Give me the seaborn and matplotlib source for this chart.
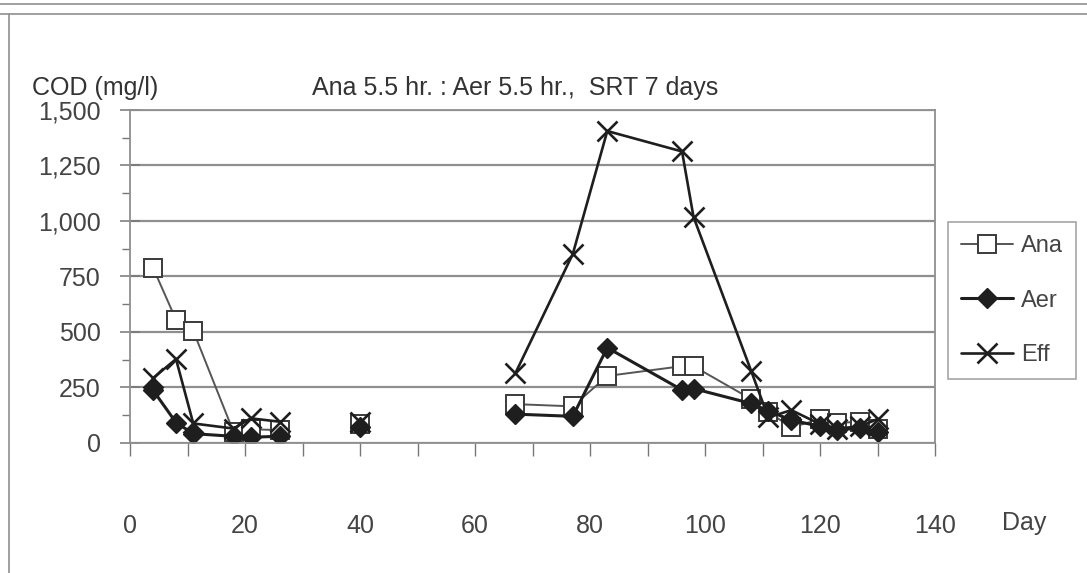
import matplotlib
matplotlib.use("Agg")
import matplotlib.pyplot as plt
import pandas as pd
import seaborn as sns
from matplotlib.lines import Line2D
from matplotlib.ticker import MultipleLocator, FuncFormatter

# Sampling days and the run each day belongs to (runs are not joined by lines)
days = [4, 8, 11, 18, 21, 26, 40, 67, 77, 83, 96, 98, 108, 111, 115, 120, 123, 127, 130]
runs = [1, 1, 1, 1, 1, 1, 2, 3, 3, 3, 3, 3, 3, 3, 3, 3, 3, 3, 3]

# COD (mg/l) for the anaerobic tank, aerobic tank and effluent
ana = [790, 555, 505, 50, 62, 58, 85, 175, 165, 302, 346, 346, 198, 140, 70, 107, 90, 96, 62]
aer = [238, 92, 42, 30, 26, 30, 70, 130, 120, 429, 239, 245, 178, 145, 103, 75, 60, 66, 50]
eff = [292, 378, 88, 65, 111, 96, 95, 313, 851, 1405, 1313, 1018, 326, 115, 148, 85, 65, 75, 108]

series_names = ["Ana", "Aer", "Eff"]
x_ticks = [0, 20, 40, 60, 80, 100, 120, 140]
y_ticks = [0, 250, 500, 750, 1000, 1250, 1500]

df = pd.DataFrame({"day": days, "run": runs, "Ana": ana, "Aer": aer, "Eff": eff})

sns.set_theme(style="white")
plt.rcParams["font.family"] = ["Liberation Sans", "DejaVu Sans"]

FS = 18
LEG_FS = 17

styles = {
    "Ana": dict(color="#555555", lw=1.4, marker="s", ms=13, mfc="white",
                mec="#3a3a3a", mew=1.4),
    "Aer": dict(color="#1e1e1e", lw=2.2, marker="D", ms=10, mfc="#1e1e1e",
                mec="#1e1e1e", mew=1.0),
    "Eff": dict(color="#1e1e1e", lw=1.9, marker="x", ms=14, mfc="none",
                mec="#1e1e1e", mew=1.9),
}

fig = plt.figure(figsize=(10.87, 5.73), dpi=100)
ax = fig.add_axes([0.1196, 0.2269, 0.7406, 0.5812])

for name in series_names:
    sns.lineplot(data=df, x="day", y=name, units="run", estimator=None,
                 sort=False, ax=ax, **styles[name])

ax.set_xlim(x_ticks[0], x_ticks[-1])
ax.set_ylim(y_ticks[0], y_ticks[-1])
ax.set_xticks(x_ticks)
ax.set_yticks(y_ticks)
ax.xaxis.set_minor_locator(MultipleLocator(10))
ax.yaxis.set_minor_locator(MultipleLocator(125))
ax.yaxis.set_major_formatter(FuncFormatter(lambda v, p: f"{v:,.0f}"))
ax.set_xlabel("")
ax.set_ylabel("")

ax.yaxis.grid(True, which="major", color="#8f8f8f", lw=1.6)
ax.xaxis.grid(False)
ax.set_axisbelow(True)
for side in ["left", "right", "top", "bottom"]:
    ax.spines[side].set_visible(True)
    ax.spines[side].set_color("#8f8f8f")
    ax.spines[side].set_linewidth(1.3)

ax.tick_params(axis="y", which="major", direction="inout", length=14, width=1.1,
               color="#777777", pad=14, labelsize=FS, labelcolor="#444444", left=True)
ax.tick_params(axis="y", which="minor", direction="out", length=6, width=1.0,
               color="#777777", left=True)
ax.tick_params(axis="x", which="both", direction="out", length=9, width=1.0,
               color="#777777", pad=42, labelsize=FS, labelcolor="#444444", bottom=True)

# Legend built from the same line styles
handles = [Line2D([], [], **styles[n]) for n in series_names]
leg = fig.legend(handles, series_names, loc="upper left",
                 bbox_to_anchor=(948 / 1087, 1 - 222 / 573), frameon=True,
                 fontsize=LEG_FS, handlelength=2.2, labelspacing=1.38,
                 borderpad=0.55, borderaxespad=0, handletextpad=0.35, fancybox=False)
leg.get_frame().set_edgecolor("#8f8f8f")
leg.get_frame().set_linewidth(1.2)
for t in leg.get_texts():
    t.set_color("#444444")

fig.text(32 / 1087, 1 - 88 / 573, "COD (mg/l)", ha="left", va="center",
         fontsize=FS, color="#333333")
fig.text(312 / 1087, 1 - 88 / 573, "Ana 5.5 hr. : Aer 5.5 hr.,  SRT 7 days",
         ha="left", va="center", fontsize=FS, color="#333333")
fig.text(1002 / 1087, 1 - 523 / 573, "Day", ha="left", va="center",
         fontsize=FS, color="#444444")

# Page frame around the chart
frame = dict(color="#8f8f8f", lw=1.2, transform=fig.transFigure)
fig.add_artist(Line2D([0, 1], [1 - 4 / 573, 1 - 4 / 573], **frame))
fig.add_artist(Line2D([0, 1], [1 - 14 / 573, 1 - 14 / 573], **frame))
fig.add_artist(Line2D([9 / 1087, 9 / 1087], [1 - 14 / 573, 0], **frame))

fig.savefig("out.png", dpi=100, facecolor="white")
